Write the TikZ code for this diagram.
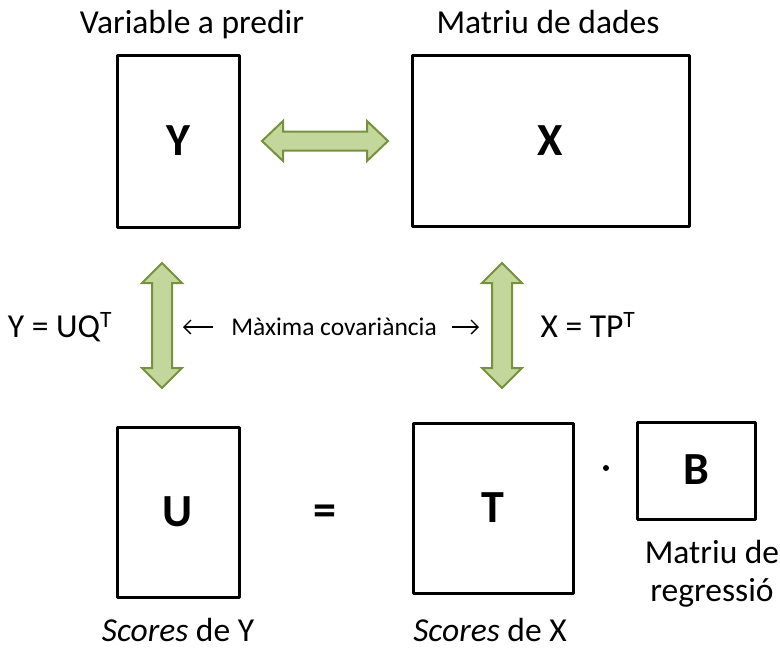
\documentclass[tikz,border=0pt]{standalone}
\usepackage{fontspec}
\setmainfont{Carlito}
\usetikzlibrary{calc,arrows.meta}
\begin{document}
\begin{tikzpicture}[x=1pt,y=-1pt,
  matbox/.style={draw=black,line width=3pt,fill=white,line join=round},
  letter/.style={font=\fontsize{46}{50}\selectfont\bfseries},
  lbl/.style={font=\fontsize{33.5}{38}\selectfont,anchor=base,inner sep=0pt},
  thinarrow/.style={line width=1.3pt,-{Straight Barb[length=7pt,width=14pt,line width=1.3pt]}},
  fat/.style={draw=arrowline,fill=arrowfill,line width=2pt,line join=miter}]
\definecolor{arrowfill}{HTML}{C3D69B}
\definecolor{arrowline}{HTML}{76923C}
\useasboundingbox (0,0) rectangle (780,649);

% boxes
\draw[matbox] (117,55) rectangle (239,227);
\node[letter] (Y) at (178,141) {Y};
\draw[matbox] (412,55) rectangle (689,226);
\node[letter] (X) at (550,141) {X};
\draw[matbox] (117,427) rectangle (239,597);
\node[letter] (U) at (178,512) {U};
\draw[matbox] (413,423) rectangle (573,593);
\node[letter] (T) at (493,508) {T};
\draw[matbox] (637,422) rectangle (755,519);
\node[letter] (B) at (696,470) {B};

% labels
\node[lbl] (ltop1) at (192,33) {Variable a predir};
\node[lbl] (ltop2) at (548,33) {Matriu de dades};
\node[lbl] (eqY) at (60,337) {Y = UQ\textsuperscript{T}};
\node[lbl] (eqX) at (588,337) {X = TP\textsuperscript{T}};
\node[lbl] (sY) at (178,641) {\textit{Scores} de Y};
\node[lbl] (sX) at (490,641) {\textit{Scores} de X};
\node[lbl] (mr1) at (712,563) {Matriu de};
\node[lbl] (mr2) at (712,601) {regressió};
\node[letter] (eq) at (325,515) {=};
\fill (606,468) circle (3);

\node[font=\fontsize{25.5}{28}\selectfont,inner sep=0pt] (cov) at (334,327) {Màxima covariància};
\coordinate (la1) at (213,327);
\coordinate (la2) at (183,327);
\coordinate (ra1) at (452,327);
\coordinate (ra2) at (479,327);
\draw[thinarrow] (la1) -- (la2);
\draw[thinarrow] (ra1) -- (ra2);

% horizontal fat double arrow
\coordinate (h1) at (262,141);
\coordinate (h2) at (388,141);
\draw[fat] (h1) -- ++(21,-20) -- ++(0,10.5) -- ($(h2)+(-21,-9.5)$) -- ++(0,-10.5) -- (h2)
  -- ++(-21,20) -- ++(0,-10.5) -- ($(h1)+(21,9.5)$) -- ++(0,10.5) -- cycle;

% vertical fat double arrows
\foreach \cx/\nm in {162/L,502/R}{
  \draw[fat] (\cx,263) -- ++(20,20) -- ++(-10,0) -- (\cx+10,368) -- ++(10,0) -- (\cx,388)
    -- ++(-20,-20) -- ++(10,0) -- (\cx-10,283) -- ++(-10,0) -- cycle;
}
\end{tikzpicture}
\end{document}
